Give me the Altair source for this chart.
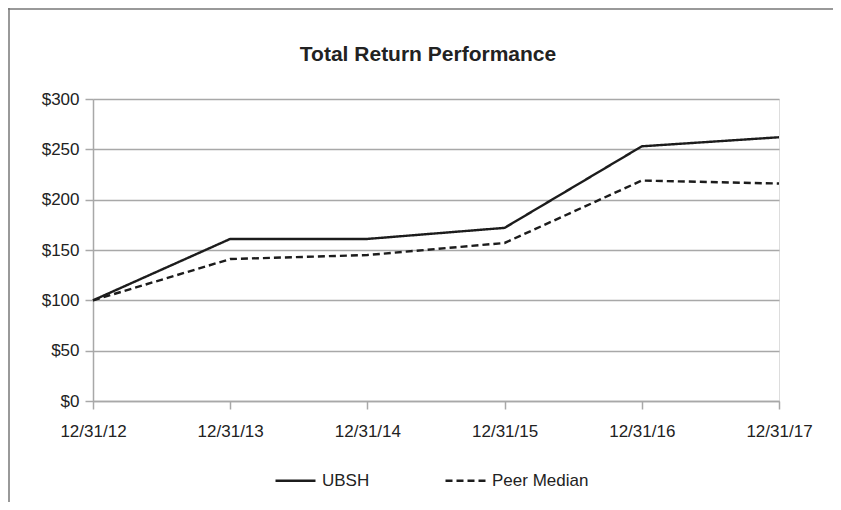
import altair as alt
import pandas as pd

dates = ["12/31/12", "12/31/13", "12/31/14", "12/31/15", "12/31/16", "12/31/17"]
ubsh = [100, 161, 161, 172, 253, 262]
peer = [100, 141, 145, 157, 219, 216]
series = ["UBSH", "Peer Median"]
title_text = "Total Return Performance"

rows = []
for d, u, p in zip(dates, ubsh, peer):
    rows.append({"date": d, "value": u, "series": "UBSH"})
    rows.append({"date": d, "value": p, "series": "Peer Median"})
df = pd.DataFrame(rows)

W, H = 686, 302
PAD = {"left": 85, "top": 91, "right": 54, "bottom": 101}
FONT = "Liberation Sans"
TXT = "#222222"
GRID = "#a8a8a8"
DASH = [7, 4]

lines = alt.Chart(df).mark_line(strokeWidth=2.4, color="#1c1c1c").encode(
    x=alt.X("date:O", sort=dates, scale=alt.Scale(type="point", padding=0),
            axis=alt.Axis(title=None, labelAngle=0, grid=False, tickSize=8,
                          labelPadding=14, labelFontSize=17, labelColor=TXT,
                          labelFont=FONT, domainColor=GRID, tickColor=GRID,
                          domainWidth=1.5, tickWidth=1.5)),
    y=alt.Y("value:Q", scale=alt.Scale(domain=[0, 300], nice=False),
            axis=alt.Axis(title=None, values=[0, 50, 100, 150, 200, 250, 300],
                          format="$,.0f", tickSize=8, labelPadding=6,
                          labelFontSize=17, labelColor=TXT, labelFont=FONT,
                          gridColor=GRID, gridWidth=1.5, domainColor=GRID,
                          tickColor=GRID, domainWidth=1.5, tickWidth=1.5)),
    strokeDash=alt.StrokeDash(
        "series:N",
        sort=series,
        scale=alt.Scale(domain=series, range=[[1, 0], DASH]),
        legend=alt.Legend(title=None, orient="none", direction="horizontal",
                          legendX=181, legendY=360, symbolType="stroke",
                          symbolSize=1600, symbolStrokeWidth=2.4,
                          symbolStrokeColor="#1c1c1c", labelFontSize=17,
                          labelFont=FONT, labelColor=TXT, columnPadding=70,
                          labelOffset=5),
    ),
)

frame_df = pd.DataFrame({"k": [0]})
top_rule = alt.Chart(frame_df).mark_rule(color="#777777", strokeWidth=1.5).encode(
    x=alt.value(-85), x2=alt.value(W + PAD["right"]), y=alt.value(-90)
)
left_rule = alt.Chart(frame_df).mark_rule(color="#777777", strokeWidth=1.5).encode(
    x=alt.value(-84), y=alt.value(-91), y2=alt.value(H + PAD["bottom"])
)
title_df = pd.DataFrame({"t": [title_text]})
title = alt.Chart(title_df).mark_text(
    font=FONT, fontSize=21, fontWeight="bold", color=TXT,
    align="center", baseline="middle"
).encode(text="t:N", x=alt.value(W / 2 - 8), y=alt.value(-44))

chart = alt.layer(lines, top_rule, left_rule, title).properties(
    width=W, height=H,
    padding=PAD,
    autosize="none",
).configure_view(stroke=None).configure(background="white")

chart.save("out.html", embed_options={"renderer": "svg", "actions": False})
